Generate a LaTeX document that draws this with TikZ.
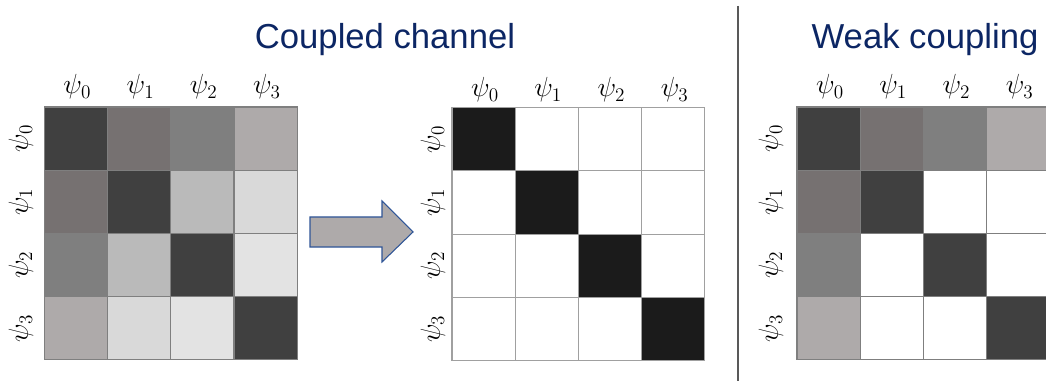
\documentclass[tikz,border=0pt]{standalone}
\usepackage{fontspec}
\setmainfont{Liberation Sans}
\definecolor{navy}{RGB}{12,38,100}
\definecolor{gridA}{HTML}{7F7F7F}
\definecolor{gridB}{HTML}{A0A0A0}
\definecolor{dk}{HTML}{404040}
\definecolor{ma}{HTML}{767171}
\definecolor{mb}{HTML}{7F7F7F}
\definecolor{mc}{HTML}{AEAAAA}
\definecolor{la}{HTML}{BABABA}
\definecolor{lb}{HTML}{D9D9D9}
\definecolor{lc}{HTML}{E3E3E3}
\definecolor{bk}{HTML}{1B1B1B}
\definecolor{wh}{HTML}{FFFFFF}
\definecolor{arrowfill}{HTML}{AEAAAA}
\definecolor{arrowline}{HTML}{2F5597}
\definecolor{divgray}{HTML}{595959}
\begin{document}
\begin{tikzpicture}[x=0.75pt,y=-0.75pt,
  cell/.style={draw=#1, line width=0.9pt, minimum size=47.4pt, inner sep=0pt, outer sep=0pt, anchor=north west},
  lab/.style={font=\fontsize{21}{24}\selectfont, inner sep=0pt},
  title/.style={font=\fontsize{26}{30}\selectfont, text=navy, anchor=base, inner sep=0pt},
  divider/.style={draw=divgray, line width=1.7pt},
  bigarrow/.style={fill=arrowfill, draw=arrowline, line width=0.8pt, line join=miter}]
\useasboundingbox (0,0) rectangle (1046,381);
\clip (0,0) rectangle (1046,381);

% titles
\node[title] (t1) at (385,49) {Coupled channel};
\node[title] (t2) at (925,49) {Weak coupling};

% divider
\coordinate (dtop) at (738,6);
\coordinate (dbot) at (738,381);
\draw[divider] (dtop) -- (dbot);

% left matrix
\foreach \row [count=\r from 0] in {{dk,ma,mb,mc},{ma,dk,la,lb},{mb,la,dk,lc},{mc,lb,lc,dk}} {
  \foreach \col [count=\k from 0] in \row {
    \node[cell=gridA, fill=\col] (L-\r-\k) at (44.3+63.2*\k,107+63.2*\r) {};
  }
}
% middle matrix
\foreach \row [count=\r from 0] in {{bk,wh,wh,wh},{wh,bk,wh,wh},{wh,wh,bk,wh},{wh,wh,wh,bk}} {
  \foreach \col [count=\k from 0] in \row {
    \node[cell=gridB, fill=\col] (M-\r-\k) at (452+63.2*\k,107.7+63.2*\r) {};
  }
}
% right matrix
\foreach \row [count=\r from 0] in {{dk,ma,mb,mc},{ma,dk,wh,wh},{mb,wh,dk,wh},{mc,wh,wh,dk}} {
  \foreach \col [count=\k from 0] in \row {
    \node[cell=gridA, fill=\col] (R-\r-\k) at (797+63.2*\k,107+63.2*\r) {};
  }
}

% labels
\foreach \k in {0,1,2,3} {
  \node[lab] (LC-\k) at (44.3+63.2*\k+33,87) {$\psi_{\k}$};
  \node[lab, rotate=90] (LR-\k) at (21,107+63.2*\k+31.6) {$\psi_{\k}$};
  \node[lab] (MC-\k) at (452+63.2*\k+33,90) {$\psi_{\k}$};
  \node[lab, rotate=90] (MR-\k) at (433,107.7+63.2*\k+31.6) {$\psi_{\k}$};
  \node[lab] (RC-\k) at (797+63.2*\k+33,87) {$\psi_{\k}$};
  \node[lab, rotate=90] (RR-\k) at (771,107+63.2*\k+31.6) {$\psi_{\k}$};
}

% arrow
\draw[bigarrow] (310,217) -- (382,217) -- (382,201) -- (413,232) -- (382,262) -- (382,247) -- (310,247) -- cycle;
\end{tikzpicture}
\end{document}
